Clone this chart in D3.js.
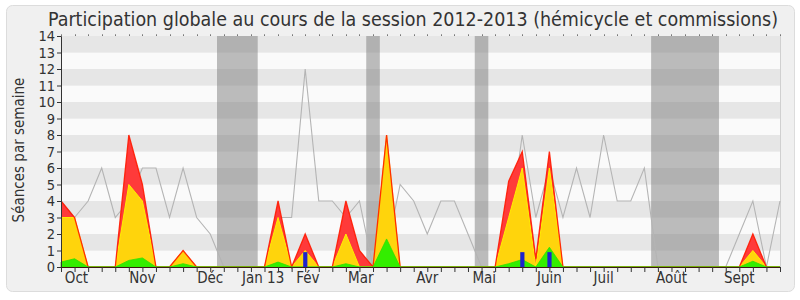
<!DOCTYPE html>
<html><head><meta charset="utf-8">
<script src="https://cdn.jsdelivr.net/npm/d3@7"></script>
<style>body{margin:0;background:#fff}svg{display:block}</style>
</head><body>
<script>
// week index 0..53
const greyLine = [4,3,4,6,3,4,6,6,3,6,3,2,0,0,0,0,3,3,12,4,4,3,4,0,1,5,4,2,4,4,2,0,0,2,8,3,6,3,6,3,8,4,4,6,0,0,0,0,0,0,2,4,0,4];
const redTotal = [4,3,0,0,0,8,5,0,0,1,0,0,0,0,0,0,4,0,2,0,0,4,1,0,8,0,0,0,0,0,0,0,0,5.2,7,0.5,7,0,0,0,0,0,0,0,0,0,0,0,0,0,0,2,0,0];
const yellow   = [3,3,0,0,0,5,4,0,0,1,0,0,0,0,0,0,3,0,1,0,0,2,0,0,8,0,0,0,0,0,0,0,0,3,6,0,6,0,0,0,0,0,0,0,0,0,0,0,0,0,0,1,0,0];
const green    = [0.3,0.5,0,0,0,0.4,0.55,0,0,0.2,0,0,0,0,0,0,0.3,0,0,0,0,0.2,0,0,1.7,0,0,0,0,0,0,0,0,0.2,0.45,0,1.2,0,0,0,0,0,0,0,0,0,0,0,0,0,0,0.35,0,0];
const blueWeeks = [18,34,36];
const blueValues = [0.9,0.9,0.9];
const vacations = [[11.5,14.5],[22.5,23.5],[30.5,31.5],[43.5,48.5]];
const monthLabels = ["Oct","Nov","Déc","Jan 13","Fév","Mar","Avr","Mai","Juin","Juil","Août","Sept"];
const monthWeeks  = [1.14,6.0,11.0,14.9,18.2,22.1,27.0,31.2,36.0,40.0,45.0,50.0];
const yTicks = d3.range(0,15);
const title = "Participation globale au cours de la session 2012-2013 (hémicycle et commissions)";
const yTitle = "Séances par semaine";

const W=800,H=300;
const svg=d3.select("body").append("svg").attr("width",W).attr("height",H);
const FONT="'DejaVu Sans Condensed','DejaVu Sans',sans-serif";

svg.append("rect").attr("x",6.5).attr("y",5.5).attr("width",788).attr("height",286).attr("rx",6)
  .attr("fill","#f0f0f0").attr("stroke","#dcdcdc");

const x=d3.scaleLinear().domain([0,53]).range([61,780]);
const y=d3.scaleLinear().domain([0,14]).range([267,36]);

// background bands
svg.append("g").selectAll("rect").data(d3.range(0,14)).join("rect")
  .attr("x",x(0)).attr("width",x(53)-x(0))
  .attr("y",d=>y(d+1)).attr("height",d=>y(d)-y(d+1))
  .attr("fill",d=>d%2===1?"#e6e6e6":"#fafafa");
svg.append("line").attr("x1",x(53)+0.5).attr("x2",x(53)+0.5).attr("y1",y(14)).attr("y2",y(0))
  .attr("stroke","#d0d0d0");

// vacations
svg.append("g").selectAll("rect").data(vacations).join("rect")
  .attr("x",d=>x(d[0])).attr("width",d=>x(d[1])-x(d[0]))
  .attr("y",y(14)).attr("height",y(0)-y(14))
  .attr("fill","rgba(120,120,120,0.48)");

const idx=d3.range(0,54);
// grey line
svg.append("path").datum(idx).attr("fill","none").attr("stroke","#b4b4b4").attr("stroke-width",1.1)
  .attr("d",d3.line().x(i=>x(i)).y(i=>y(greyLine[i])));

function areaPath(vals){return d3.area().x(i=>x(i)).y0(y(0)).y1(i=>y(vals[i]))(idx);}
function topPath(vals){return d3.line().x(i=>x(i)).y(i=>y(vals[i]))(idx);}
svg.append("path").attr("d",areaPath(redTotal)).attr("fill","#ff3a3a");
svg.append("path").attr("d",areaPath(yellow)).attr("fill","#ffd40c");
svg.append("path").attr("d",topPath(yellow)).attr("fill","none").attr("stroke","#ffee00").attr("stroke-width",1);
svg.append("path").attr("d",topPath(redTotal)).attr("fill","none").attr("stroke","#ff1a00").attr("stroke-width",1.3).attr("stroke-opacity",0.9);
svg.append("path").attr("d",areaPath(green)).attr("fill","#33ee00").attr("stroke","#2ee000").attr("stroke-width",0.8);

svg.append("g").selectAll("rect").data(blueWeeks).join("rect")
  .attr("x",d=>x(d)-2).attr("width",4.2)
  .attr("y",(d,i)=>y(blueValues[i])).attr("height",(d,i)=>y(0)-y(blueValues[i]))
  .attr("fill","#1f22cc");

// axes
const ax=svg.append("g").attr("transform",`translate(0,${y(0)})`)
  .call(d3.axisBottom(x).tickValues(idx).tickSize(5).tickFormat(""));
ax.select(".domain").attr("stroke","#3a1a10");
ax.selectAll(".tick line").attr("stroke","#333");
const ay=svg.append("g").attr("transform",`translate(${x(0)},0)`)
  .call(d3.axisLeft(y).tickValues(yTicks).tickSize(4).tickFormat(d3.format("d")));
ay.select(".domain").attr("stroke","#333");
ay.selectAll(".tick line").attr("stroke","#333");
ay.selectAll("text").attr("font-family",FONT).attr("font-size",14.5).attr("fill","#333").attr("x",-6);

// top dots
svg.append("g").selectAll("rect").data(idx).join("rect")
  .attr("x",i=>Math.round(x(i))).attr("y",y(14)-1.5).attr("width",1).attr("height",1.2).attr("fill","#444");

svg.append("g").selectAll("text").data(monthLabels).join("text")
  .attr("x",(d,i)=>x(monthWeeks[i])).attr("y",283).attr("text-anchor","middle")
  .attr("font-family",FONT).attr("font-size",15).attr("fill","#333").text(d=>d);

svg.append("text").attr("x",48).attr("y",25.5).attr("textLength",730).attr("lengthAdjust","spacingAndGlyphs")
  .attr("font-family",FONT).attr("font-size",19).attr("fill","#333").text(title);

svg.append("text").attr("transform","translate(24,150) rotate(-90)").attr("text-anchor","middle")
  .attr("font-family",FONT).attr("font-size",15).attr("fill","#333").text(yTitle);
</script>
</body></html>
